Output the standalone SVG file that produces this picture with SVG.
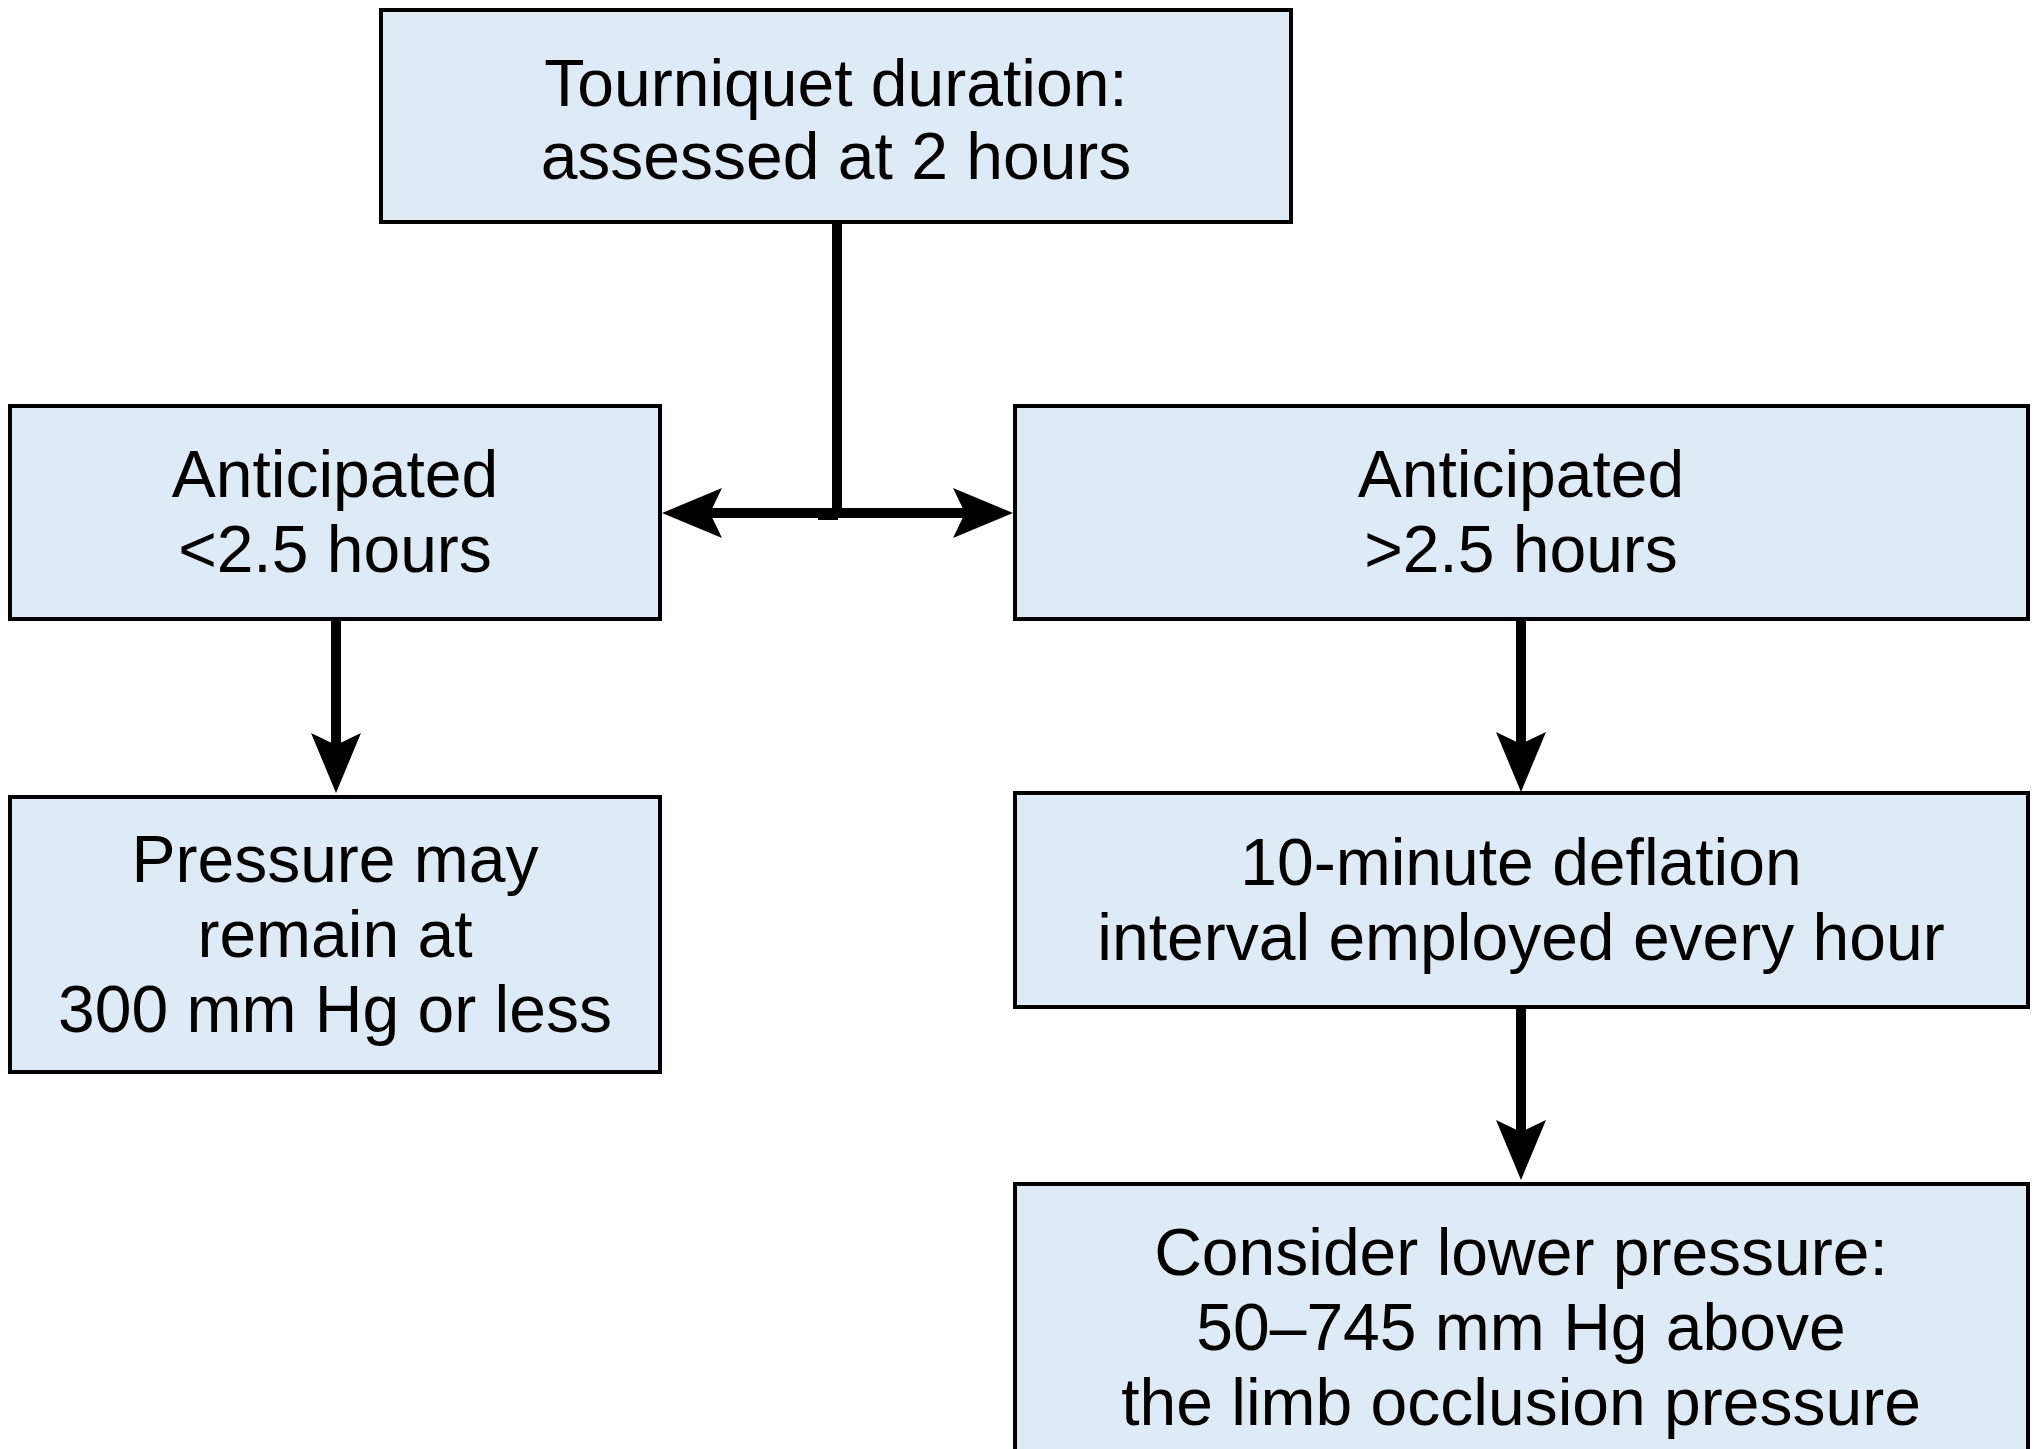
<svg xmlns="http://www.w3.org/2000/svg" width="2037" height="1449" viewBox="0 0 2037 1449">
<style>
.box{fill:#deeaf6;stroke:#000;stroke-width:4}
.t{font-family:"Liberation Sans",Arial,sans-serif;font-size:66px;fill:#000;text-anchor:middle}
.ln{fill:none;stroke:#000;stroke-width:10}
</style>
<defs>
<marker id="ah" markerUnits="userSpaceOnUse" markerWidth="62" markerHeight="52" refX="12" refY="25" orient="auto" viewBox="0 0 62 50">
<path d="M60,25 L0,0 L12,25 L0,50 Z" fill="#000"/>
</marker>
</defs>
<rect width="2037" height="1449" fill="#fff"/>
<g id="connectors">
<path class="ln" d="M837,223 V518"/>
<path class="ln" d="M837,513 H710" marker-end="url(#ah)"/>
<path class="ln" d="M837,513 H965" marker-end="url(#ah)"/>
<rect x="818" y="509" width="20" height="11" fill="#000"/>
<path class="ln" d="M336,620 V745" marker-end="url(#ah)"/>
<path class="ln" d="M1521,620 V744" marker-end="url(#ah)"/>
<path class="ln" d="M1521,1007 V1132" marker-end="url(#ah)"/>
</g>
<g id="n_top">
<rect class="box" x="381" y="10" width="910" height="212"/>
<text class="t" x="836" y="106">Tourniquet duration:</text>
<text class="t" x="836" y="179">assessed at 2 hours</text>
</g>
<g id="n_lt">
<rect class="box" x="10" y="406" width="650" height="213"/>
<text class="t" x="335" y="497">Anticipated</text>
<text class="t" x="335" y="572">&lt;2.5 hours</text>
</g>
<g id="n_gt">
<rect class="box" x="1015" y="406" width="1013" height="213"/>
<text class="t" x="1521" y="497">Anticipated</text>
<text class="t" x="1521" y="572">&gt;2.5 hours</text>
</g>
<g id="n_press">
<rect class="box" x="10" y="797" width="650" height="275"/>
<text class="t" x="335" y="882">Pressure may</text>
<text class="t" x="335" y="957">remain at</text>
<text class="t" x="335" y="1032">300 mm Hg or less</text>
</g>
<g id="n_defl">
<rect class="box" x="1015" y="793" width="1013" height="214"/>
<text class="t" x="1521" y="885">10-minute deflation</text>
<text class="t" x="1521" y="960">interval employed every hour</text>
</g>
<g id="n_lower">
<rect class="box" x="1015" y="1184" width="1013" height="290"/>
<text class="t" x="1521" y="1275">Consider lower pressure:</text>
<text class="t" x="1521" y="1350">50–745 mm Hg above</text>
<text class="t" x="1521" y="1425">the limb occlusion pressure</text>
</g>
</svg>
